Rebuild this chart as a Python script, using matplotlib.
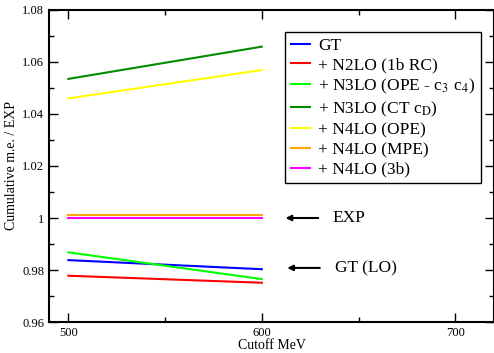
import numpy as np
import matplotlib
matplotlib.use('Agg')
import matplotlib.pyplot as plt

plt.rcParams['font.family'] = ['Liberation Serif', 'DejaVu Serif']
plt.rcParams['mathtext.fontset'] = 'stix'

# cutoffs (MeV)
cutoff = [500, 600]

# cumulative matrix element / EXP
gt = [0.9838, 0.9803]
n2lo = [0.9778, 0.9751]
n3lo_ope = [0.9868, 0.9765]
n3lo_ct = [1.0535, 1.0659]
n4lo_ope = [1.0460, 1.0569]
n4lo_mpe = [1.0010, 1.0010]
n4lo_3b = [1.0000, 1.0000]

labels = ['GT', '+ N2LO (1b RC)', '+ N3LO (OPE - c$_3$ c$_4$)',
          '+ N3LO (CT c$_\\mathrm{D}$)', '+ N4LO (OPE)', '+ N4LO (MPE)', '+ N4LO (3b)']
colors = ['#0000ff', '#ff0000', '#00ff00', '#008b00', '#ffff00', '#ffa500', '#ff00ff']
series = [gt, n2lo, n3lo_ope, n3lo_ct, n4lo_ope, n4lo_mpe, n4lo_3b]

fig = plt.figure(figsize=(4.94, 3.53), dpi=100)
ax = fig.add_axes([0.0992, 0.0878, 0.9008, 0.8839])

for y, c, lab in zip(series, colors, labels):
    ax.plot(cutoff, y, color=c, lw=1.5, label=lab)

ax.set_xlim(490, 720)
ax.set_ylim(0.96, 1.08)
ax.set_xticks([500, 600, 700])
ax.set_xticks([550, 650], minor=True)
ax.set_yticks([0.96, 0.98, 1.0, 1.02, 1.04, 1.06, 1.08])
ax.set_yticklabels(['0.96', '0.98', '1', '1.02', '1.04', '1.06', '1.08'])
ax.set_yticks(np.arange(0.97, 1.08, 0.02), minor=True)
ax.tick_params(which='both', direction='in', top=True, right=True, labelsize=9)
ax.tick_params(which='major', length=6.5, width=1)
ax.tick_params(which='minor', length=3.6, width=1)
for s in ax.spines.values():
    s.set_linewidth(1.5)

ax.set_xlabel('Cutoff MeV', fontsize=10, labelpad=0)
ax.set_ylabel('Cumulative m.e. / EXP', fontsize=10, labelpad=3)

# arrows with labels
ax.annotate('', xy=(610.8, 1.0), xytext=(630.6, 1.0),
            arrowprops=dict(arrowstyle='-|>', color='black', lw=1.5, mutation_scale=8))
ax.text(636.5, 1.0, 'EXP', fontsize=12.5, va='center')
ax.annotate('', xy=(611.7, 0.9808), xytext=(631.4, 0.9808),
            arrowprops=dict(arrowstyle='-|>', color='black', lw=1.5, mutation_scale=8))
ax.text(638, 0.9808, 'GT (LO)', fontsize=12.5, va='center')

leg = ax.legend(loc='upper left', bbox_to_anchor=(0.53, 0.93), borderaxespad=0.,
                fontsize=12.5, handlelength=1.1, handletextpad=0.5,
                labelspacing=0.2, borderpad=0.33, fancybox=False, framealpha=1)
leg.get_frame().set_edgecolor('black')
leg.get_frame().set_linewidth(1)

fig.savefig('out.png', dpi=100)
